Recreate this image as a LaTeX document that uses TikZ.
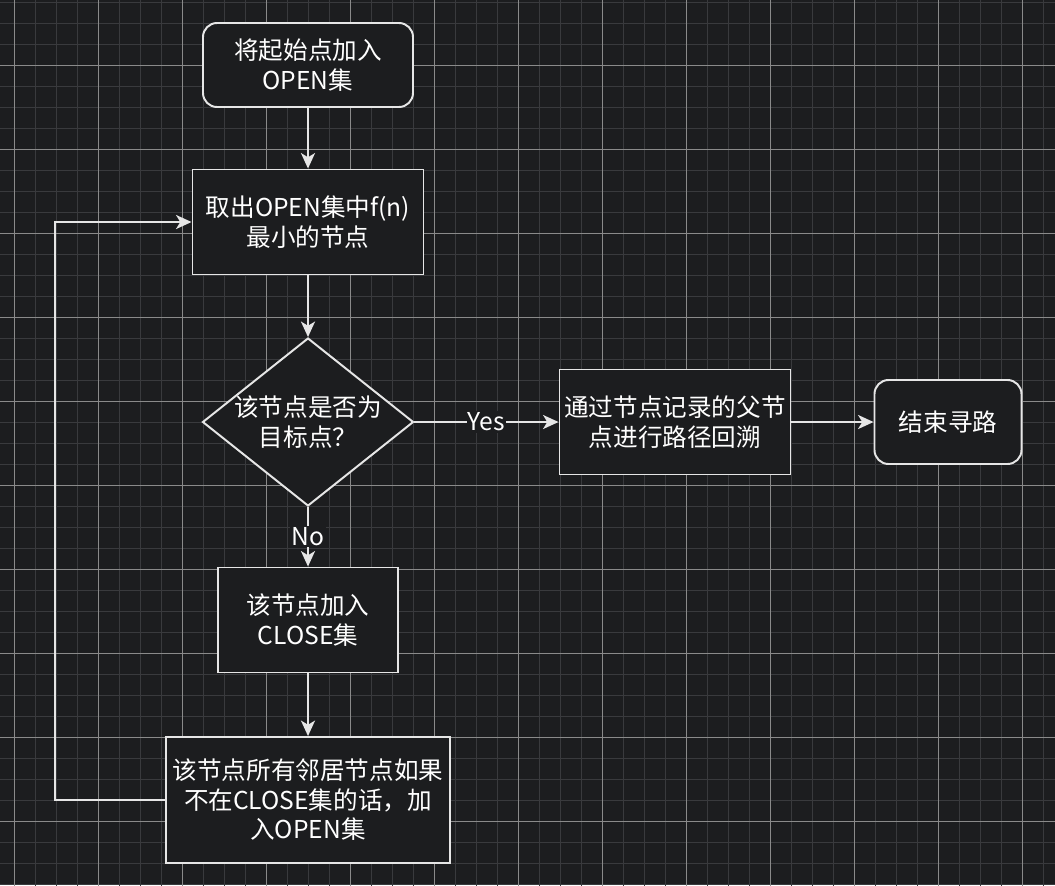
\documentclass[tikz,border=0pt]{standalone}
\usepackage{fontspec}
\setmainfont{Noto Sans CJK SC}
\usepackage{xcolor}
\definecolor{CanvasDark}{HTML}{1C1D1F}
\definecolor{GridMinor}{HTML}{393A3D}
\definecolor{GridMajor}{HTML}{8A8A8A}
\definecolor{LineLight}{HTML}{E6E6E6}
\usepackage{tikz}
\usetikzlibrary{positioning}
\usetikzlibrary{shapes.geometric}
\usetikzlibrary{arrows.meta}

\begin{document}
\begin{tikzpicture}[
    node distance = 1cm,
    flowBox/.style={rectangle,
    draw=LineLight,
    fill=CanvasDark,
    text=white,
    font=\fontsize{17.5}{21}\selectfont,
    align=center,
    inner sep=0pt,
    line width=1.4pt},
    flowRound/.style={flowBox, rounded corners=3.5mm},
    flowDiamond/.style={flowBox, diamond},
    flowText/.style={text=white, font=\fontsize{17.5}{21}\selectfont, align=center},
    flowArrow/.style={draw=LineLight, line width=1.4pt,
    -{Stealth[length=11pt, width=10pt, inset=3pt]}},
    flowLabel/.style={fill=CanvasDark, text=white,
    font=\fontsize{17.5}{21}\selectfont, inner sep=1pt}
    ]
    % canvas and grid
    \fill[CanvasDark] (0,0) rectangle (26.375,-22.125);
    \clip (0,0) rectangle (26.375,-22.125);
    \draw[GridMinor, line width=0.7pt, step=0.525, shift={(0.35,-1.625)}] (-1,-22) grid (27,2);
    \draw[GridMajor, line width=0.7pt, step=2.1, shift={(0.35,-1.625)}] (-1,-22) grid (27,2);
    % nodes
    \node[flowRound, minimum width=5.25cm, minimum height=2.1cm] (1) at (7.7,-1.625) {将起始点加入\\OPEN集};
    \node[flowBox, minimum width=5.775cm, minimum height=2.625cm] (2) at (7.7,-5.55) {取出OPEN集中f(n)\\最小的节点};
    \draw[flowArrow] (1) -- (2);
    \node[flowDiamond, minimum width=5.275cm, minimum height=4.2cm,
      label={[flowText]center:该节点是否为\\目标点？}] (3) at (7.7,-10.55) {};
    \draw[flowArrow] (2) -- (3);
    \node[flowBox, minimum width=5.775cm, minimum height=2.625cm] (4) at (16.875,-10.55) {通过节点记录的父节\\点进行路径回溯};
    \draw[flowArrow] (3) -- node[flowLabel] {Yes} (4);
    \node[flowRound, minimum width=3.675cm, minimum height=2.1cm] (5) at (23.7,-10.55) {结束寻路};
    \draw[flowArrow] (4) -- (5);
    \node[flowBox, minimum width=4.5cm, minimum height=2.625cm] (6) at (7.7,-15.5) {该节点加入\\CLOSE集};
    \draw[flowArrow] (3) -- node[flowLabel] {No} (6);
    \node[flowBox, minimum width=7.1cm, minimum height=3.15cm] (7) at (7.7,-20.0) {该节点所有邻居节点如果\\不在CLOSE集的话，加\\入OPEN集};
    \draw[flowArrow] (6) -- (7);
    \draw[flowArrow] (7.west) -- ++(-2.75,0) |- (2.west);
  \end{tikzpicture}
\end{document}
